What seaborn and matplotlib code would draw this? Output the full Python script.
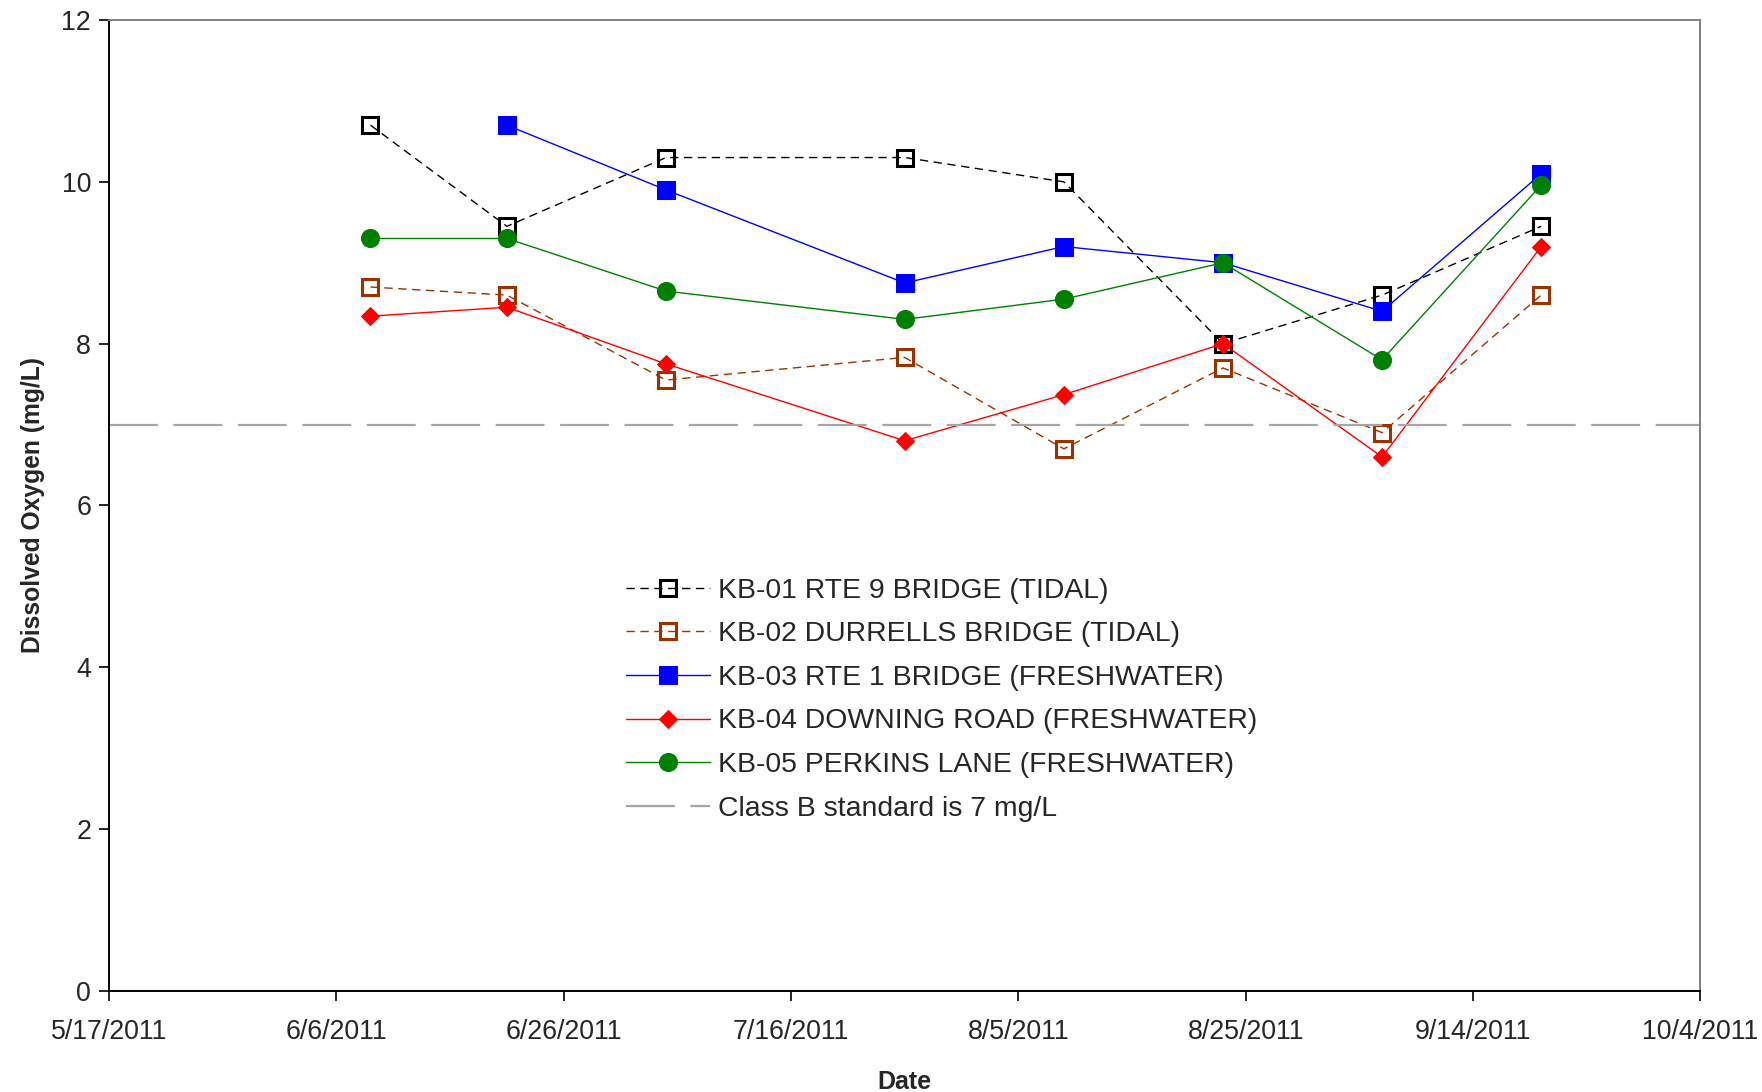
import matplotlib
matplotlib.use("Agg")
import matplotlib.pyplot as plt
import matplotlib.dates as mdates
import seaborn as sns
import pandas as pd

# Sampling dates and dissolved-oxygen readings (mg/L) per station
dates = pd.to_datetime(["2011-06-09", "2011-06-21", "2011-07-05", "2011-07-26",
                        "2011-08-09", "2011-08-23", "2011-09-06", "2011-09-20"])
kb01 = [10.7, 9.45, 10.3, 10.3, 10.0, 8.0, 8.6, 9.45]
kb02 = [8.7, 8.6, 7.55, 7.83, 6.7, 7.7, 6.9, 8.6]
kb03 = [None, 10.7, 9.9, 8.75, 9.2, 9.0, 8.4, 10.1]
kb04 = [8.34, 8.45, 7.75, 6.8, 7.37, 8.0, 6.6, 9.2]
kb05 = [9.3, 9.3, 8.65, 8.3, 8.55, 9.0, 7.8, 9.96]
standard = 7.0

labels = ["KB-01 RTE 9 BRIDGE (TIDAL)",
          "KB-02 DURRELLS BRIDGE (TIDAL)",
          "KB-03 RTE 1 BRIDGE (FRESHWATER)",
          "KB-04 DOWNING ROAD (FRESHWATER)",
          "KB-05 PERKINS LANE (FRESHWATER)"]
standard_label = "Class B standard is 7 mg/L"

x_start, x_end = pd.Timestamp("2011-05-17"), pd.Timestamp("2011-10-04")
x_ticks = pd.date_range(x_start, x_end, freq="20D")
y_ticks = [0, 2, 4, 6, 8, 10, 12]

sns.set_style("white")
plt.rcParams["font.family"] = ["Liberation Sans", "DejaVu Sans"]

fig = plt.figure(figsize=(17.62, 10.92), dpi=100)
ax = fig.add_axes([0.0619, 0.0925, 0.9031, 0.8892])

styles = [
    dict(color="black", marker="s", markersize=12, markerfacecolor="none",
         markeredgewidth=2.2, linestyle=(0, (6, 4)), linewidth=1.0),
    dict(color="#993300", marker="s", markersize=12, markerfacecolor="none",
         markeredgewidth=2.2, linestyle=(0, (6, 4)), linewidth=1.0),
    dict(color="blue", marker="s", markersize=13, linestyle="-", linewidth=1.0),
    dict(color="red", marker="D", markersize=9, linestyle="-", linewidth=1.0),
    dict(color="green", marker="o", markersize=13, linestyle="-", linewidth=1.0),
]

for vals, lab, st in zip([kb01, kb02, kb03, kb04, kb05], labels, styles):
    df = pd.DataFrame({"date": dates, "do": vals}).dropna()
    sns.lineplot(data=df, x="date", y="do", ax=ax, label=lab,
                 markeredgecolor=st["color"], **st)

sns.lineplot(x=[x_start, x_end], y=[standard, standard], ax=ax,
             color="#a6a6a6", linewidth=1.6, linestyle=(0, (22, 7)),
             label=standard_label)

ax.set_xlim(x_start, x_end)
ax.set_ylim(0, 12)
ax.set_xticks(x_ticks)
ax.xaxis.set_major_formatter(
    matplotlib.ticker.FuncFormatter(
        lambda v, p: (lambda d: f"{d.month}/{d.day}/{d.year}")(mdates.num2date(v))))
ax.set_yticks(y_ticks)
ax.tick_params(axis="both", which="major", labelsize=19.3, direction="out",
               length=7, width=1.2, color="black", bottom=True, left=True)
ax.tick_params(axis="x", pad=13)
ax.tick_params(axis="y", pad=6)

for side in ["left", "bottom"]:
    ax.spines[side].set_color("black")
    ax.spines[side].set_linewidth(1.4)
for side in ["top", "right"]:
    ax.spines[side].set_color("#808080")
    ax.spines[side].set_linewidth(1.4)

ax.set_xlabel("Date", fontsize=18, fontweight="bold", labelpad=18)
ax.set_ylabel("Dissolved Oxygen (mg/L)", fontsize=17.7, fontweight="bold", labelpad=12)

ax.legend(loc="center left", bbox_to_anchor=(0.325, 0.30), frameon=False,
          fontsize=20.4, handlelength=2.95, handletextpad=0.3,
          labelspacing=0.62, borderpad=0, borderaxespad=0)

fig.savefig("out.png", dpi=100)
